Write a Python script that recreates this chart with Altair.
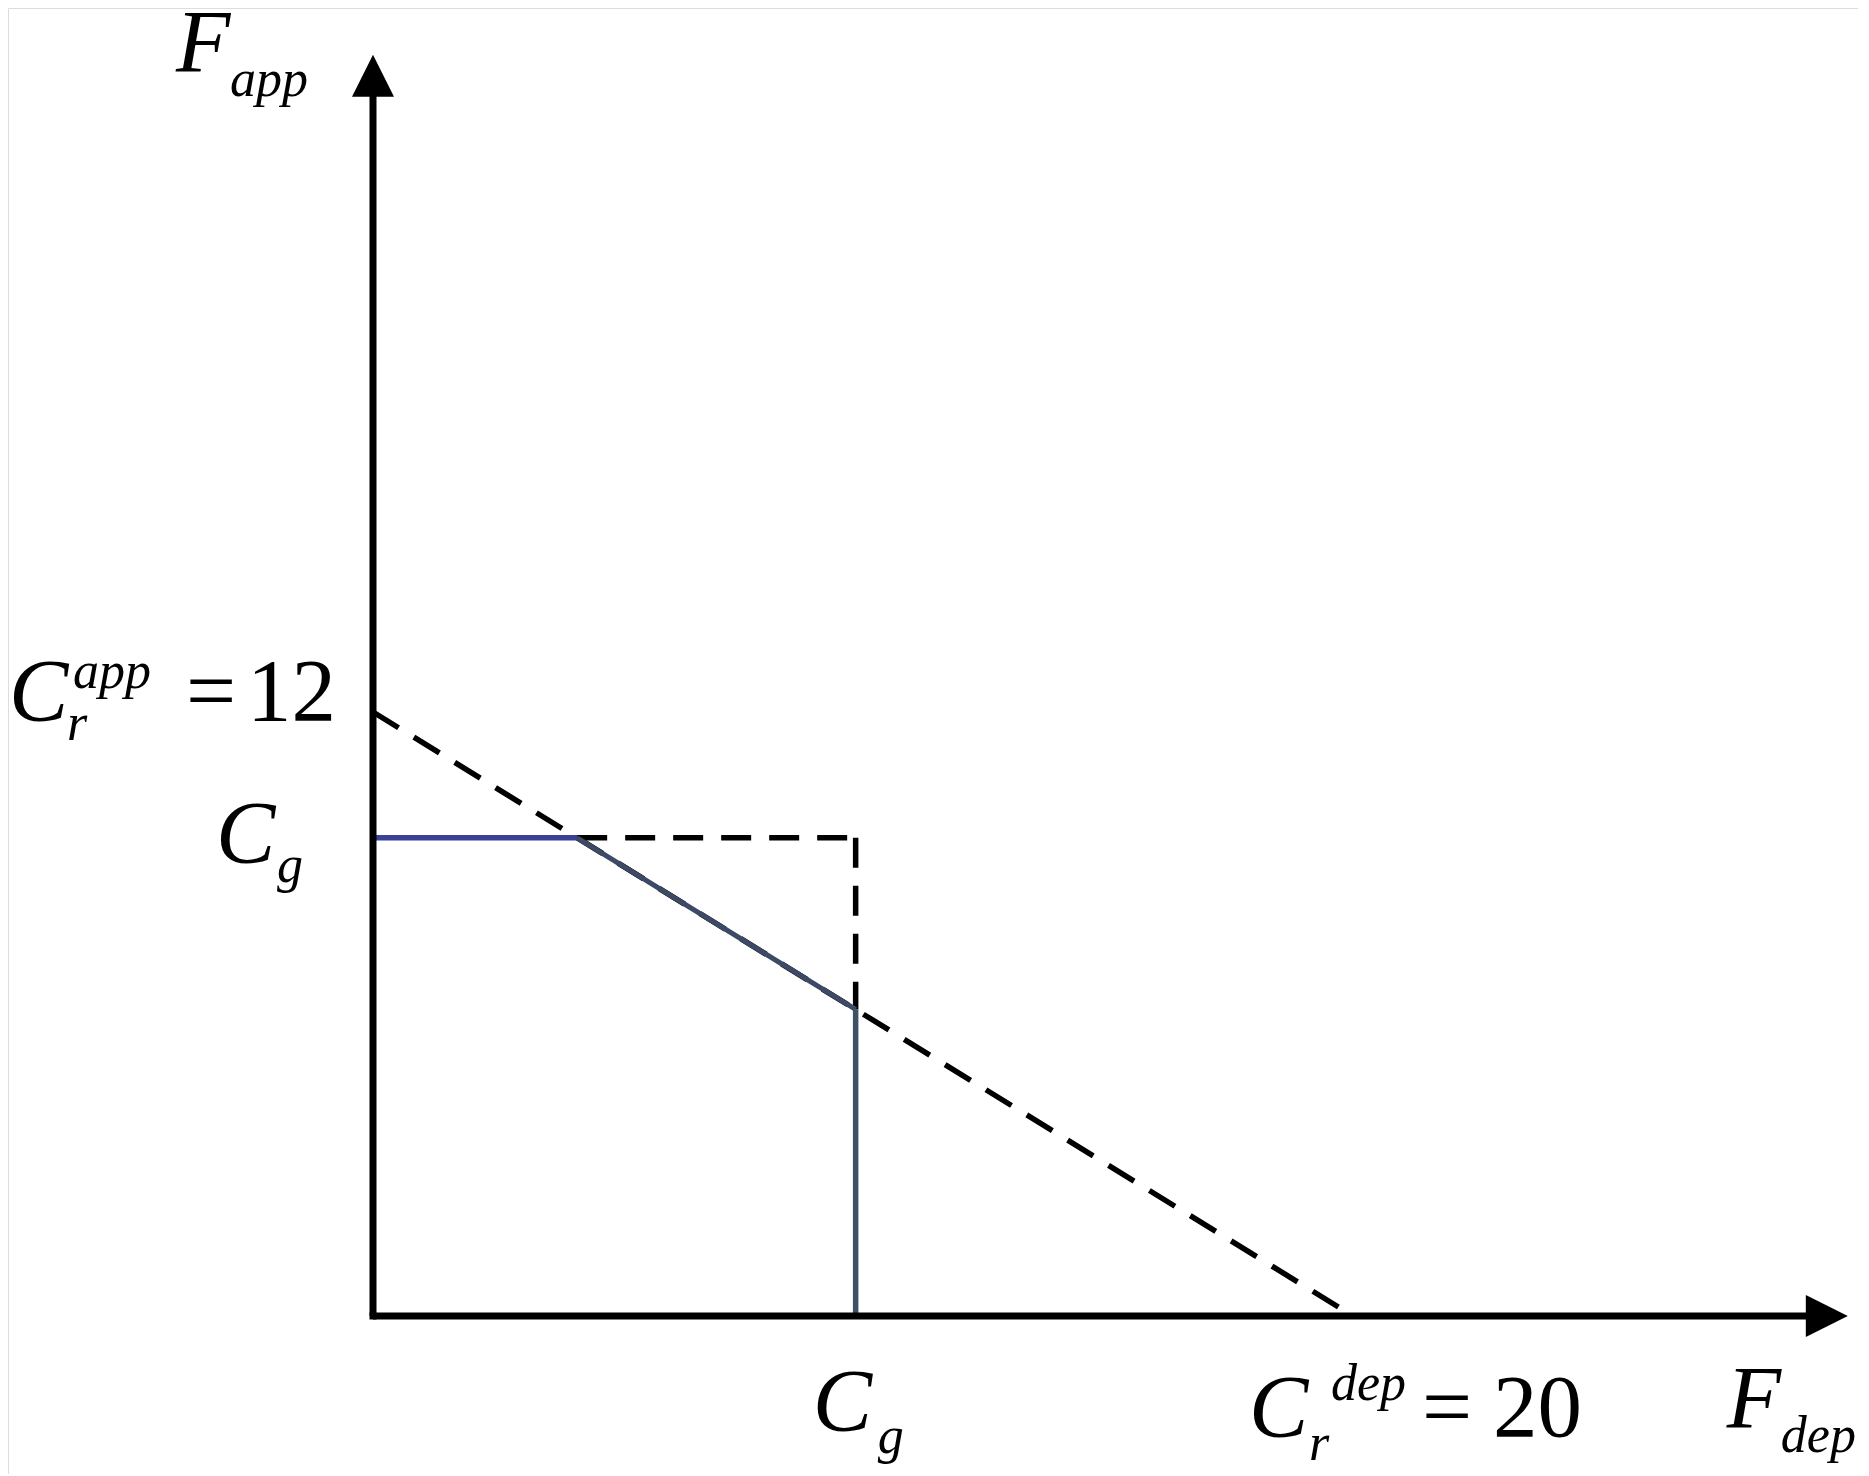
import altair as alt
import pandas as pd

# ---- values ----
cr_app = 12.0      # C_r^app intercept on the F_app axis
cr_dep = 20.0      # C_r^dep intercept on the F_dep axis
cg_app = 9.5       # C_g level on the F_app axis
cg_dep = 9.85      # C_g level on the F_dep axis

# derived intersections with the dashed budget line
x_int = (cr_app - cg_app) * cr_dep / cr_app
y_int = cr_app - cr_app * cg_dep / cr_dep

# axis extents (data units) where the arrows sit
x_axis_end = 29.67
y_axis_end = 24.64

# ---- layout ----
W, H = 1850, 1466
xs = alt.Scale(domain=[-7.449, 30.306], nice=False, zero=False)
ys = alt.Scale(domain=[-3.139, 25.987], nice=False, zero=False)

FONT = "Liberation Serif"
BIG = 89
SMALL = 52


def seg_chart(rows, color, width, dash=None):
    df = pd.DataFrame(rows, columns=["x", "y", "x2", "y2"])
    kw = dict(color=color, strokeWidth=width, strokeCap="butt")
    if dash:
        kw["strokeDash"] = dash
    return alt.Chart(df).mark_rule(**kw).encode(
        x=alt.X("x:Q", scale=xs, axis=None),
        y=alt.Y("y:Q", scale=ys, axis=None),
        x2="x2:Q",
        y2="y2:Q",
    )


def label(text, x, y, dx, dy, size, italic=True, align="left"):
    df = pd.DataFrame({"x": [x], "y": [y], "t": [text]})
    return alt.Chart(df).mark_text(
        font=FONT,
        fontSize=size,
        fontStyle="italic" if italic else "normal",
        align=align,
        baseline="alphabetic",
        dx=dx,
        dy=dy,
        color="#000000",
    ).encode(
        x=alt.X("x:Q", scale=xs, axis=None),
        y=alt.Y("y:Q", scale=ys, axis=None),
        text="t:N",
    )


# dashed guide lines
dashed = seg_chart(
    [
        (0, cr_app, cr_dep, 0),
        (x_int, cg_app, cg_dep, cg_app),
        (cg_dep, cg_app, cg_dep, y_int),
    ],
    "#000000", 5.5, dash=[30, 18],
)

# solid feasible boundary
blue_h = seg_chart([(0, cg_app, x_int, cg_app)], "#3B4196", 5.5)
blue_d = seg_chart([(x_int, cg_app, cg_dep, y_int)], "#3C4A66", 5)
blue_v = seg_chart([(cg_dep, y_int, cg_dep, 0)], "#3E5064", 5.5)

# axes
axes = seg_chart(
    [
        (0, 0, x_axis_end, 0),
        (0, 0, 0, y_axis_end),
    ],
    "#000000", 7,
)
axes_corner = alt.Chart(pd.DataFrame({"x": [0], "y": [0]})).mark_square(
    size=49, color="#000000", opacity=1
).encode(x=alt.X("x:Q", scale=xs, axis=None), y=alt.Y("y:Q", scale=ys, axis=None))

arrow_up = alt.Chart(pd.DataFrame({"x": [0], "y": [y_axis_end]})).mark_point(
    shape="M0,-1L1,1L-1,1Z", size=42 * 42, filled=True, color="#000000", opacity=1
).encode(x=alt.X("x:Q", scale=xs, axis=None), y=alt.Y("y:Q", scale=ys, axis=None))

arrow_right = alt.Chart(pd.DataFrame({"x": [x_axis_end], "y": [0]})).mark_point(
    shape="M-1,-1L1,0L-1,1Z", size=42 * 42, filled=True, color="#000000", opacity=1
).encode(x=alt.X("x:Q", scale=xs, axis=None), y=alt.Y("y:Q", scale=ys, axis=None))

labels = [
    # F_app near the top arrow
    label("F", 0, y_axis_end, -197, -5, BIG),
    label("app", 0, y_axis_end, -143, 20, SMALL),
    # C_r^app = 12
    label("C", 0, cr_app, -364, 8, BIG),
    label("app", 0, cr_app, -300, -24, SMALL),
    label("r", 0, cr_app, -306, 28, SMALL),
    label("=", 0, cr_app, -162, 8, BIG, italic=False, align="center"),
    label("12", 0, cr_app, -37, 8, BIG, italic=False, align="right"),
    # C_g on the vertical axis
    label("C", 0, cg_app, -157, 24, BIG),
    label("g", 0, cg_app, -96, 44, SMALL),
    # C_g on the horizontal axis
    label("C", cg_dep, 0, -43, 114, BIG),
    label("g", cg_dep, 0, 22, 137, SMALL),
    # C_r^dep = 20
    label("C", cr_dep, 0, -104, 120, BIG),
    label("dep", cr_dep, 0, -22, 84, SMALL),
    label("r", cr_dep, 0, -44, 144, SMALL),
    label("=", cr_dep, 0, 94, 120, BIG, italic=False, align="center"),
    label("20", cr_dep, 0, 229, 120, BIG, italic=False, align="right"),
    # F_dep near the right arrow
    label("F", x_axis_end, 0, -100, 111, BIG),
    label("dep", x_axis_end, 0, -46, 136, SMALL),
]

chart = alt.layer(
    dashed, blue_h, blue_d, blue_v, axes, axes_corner, arrow_up, arrow_right, *labels
).properties(
    width=W,
    height=H,
    autosize=alt.AutoSizeParams(type="none"),
    padding=0,
).configure_view(stroke=None).configure(background="#ffffff")

chart.save("out.html", embed_options={"renderer": "svg", "actions": False})
